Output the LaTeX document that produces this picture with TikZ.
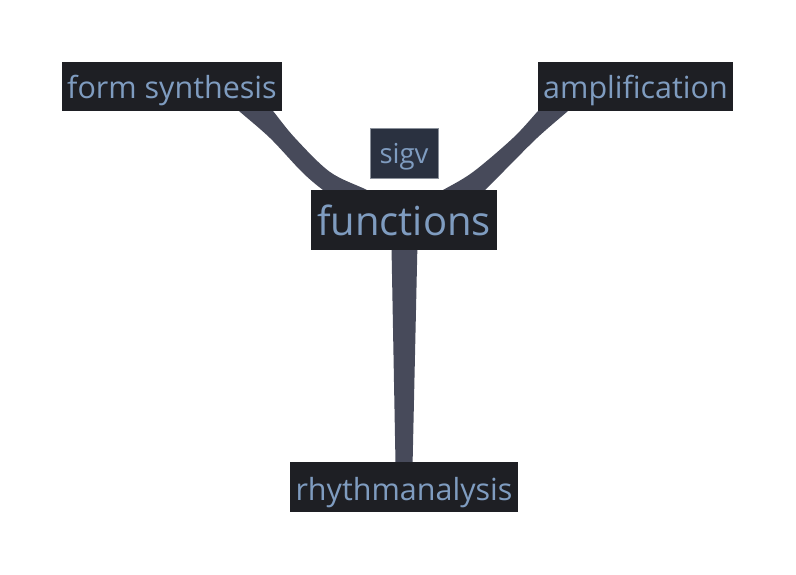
\documentclass[tikz,border=0pt]{standalone}
\usepackage{fontspec}
\setmainfont{Open Sans}
\definecolor{boxbg}{HTML}{1E1F24}
\definecolor{txt}{HTML}{7F9CC0}
\definecolor{linkc}{HTML}{474A5A}
\definecolor{sigbg}{HTML}{2A3140}
\definecolor{sigbd}{HTML}{8A909A}
\tikzset{
  leaf/.style={fill=boxbg, text=txt, font=\fontsize{30.5}{34}\selectfont, inner sep=0pt, minimum height=49pt, text height=24pt, text depth=0pt},
  hub/.style={fill=boxbg, text=txt, font=\fontsize{40}{44}\selectfont, inner sep=0pt, minimum height=60pt, minimum width=186pt, text height=30pt, text depth=0pt},
  tag/.style={fill=sigbg, draw=sigbd, line width=0.6pt, text=txt, font=\fontsize{27.5}{30}\selectfont, inner sep=0pt, minimum height=50pt, minimum width=68pt, text height=20.6pt, text depth=0pt},
  band/.style={fill=linkc, draw=none}
}
\begin{document}
\begin{tikzpicture}[x=1pt,y=-1pt]
\fill[white] (0,0) rectangle (796,574);
\useasboundingbox (0,0) rectangle (796,574);
% connectors (drawn behind the boxes)
\fill[band] plot[smooth, tension=0.55] coordinates {(225,98) (239,111) (270,138) (302,172) (323,190) (345,205)}
  -- plot[smooth, tension=0.55] coordinates {(395,205) (367,190) (330,172) (295,138) (273,111) (262,98)} -- cycle;
\fill[band] plot[smooth, tension=0.55] coordinates {(550,98) (538,111) (513,138) (473,172) (443,190) (415,205)}
  -- plot[smooth, tension=0.55] coordinates {(470,205) (485,190) (503,172) (537,138) (568,111) (583,98)} -- cycle;
\fill[band] (391,220) -- (418,220) -- (412,490) -- (396,490) -- cycle;
% nodes
\node[leaf, minimum width=220pt] (fs) at (172,86.5) {form synthesis};
\node[leaf, minimum width=195pt] (amp) at (635.5,86.5) {amplification};
\node[tag] (sg) at (404,153) {sigv};
\node[hub] (fn) at (404,220) {functions};
\node[leaf, minimum width=228pt, minimum height=50pt, text height=26pt] (rh) at (404,487) {rhythmanalysis};
\end{tikzpicture}
\end{document}
